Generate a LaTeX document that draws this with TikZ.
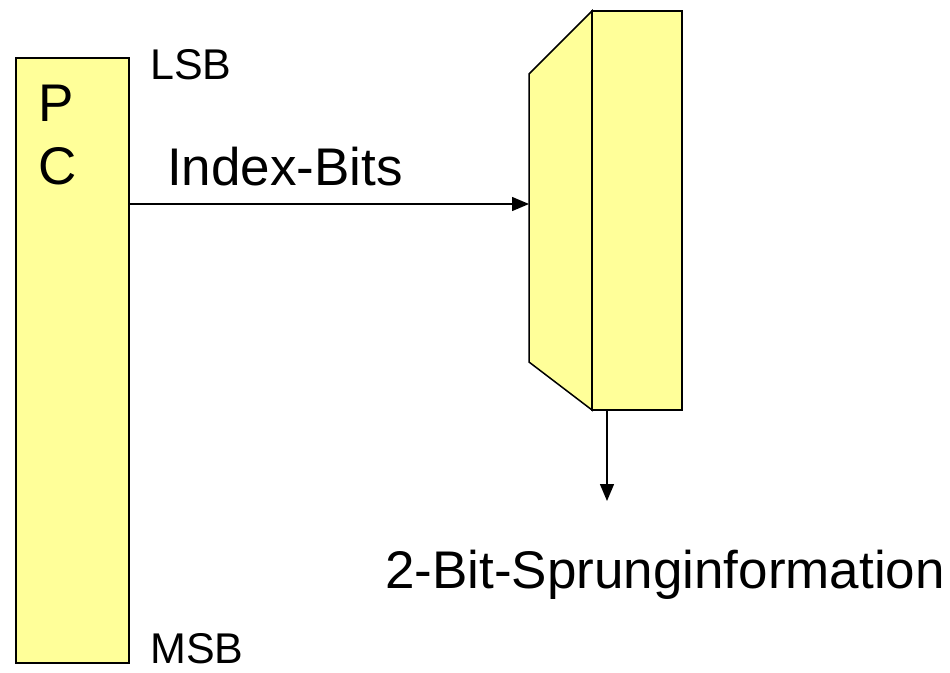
\documentclass[tikz,border=0pt]{standalone}
\usepackage{fontspec}
\setmainfont{Liberation Sans}
\usetikzlibrary{arrows.meta}
\definecolor{boxfill}{HTML}{FFFF99}
\tikzset{
  box/.style={draw=black, line width=1.5pt, fill=boxfill, line join=miter},
  conn/.style={draw=black, line width=1.4pt, -{Triangle[length=17pt,width=14pt]}},
  big/.style={font=\fontsize{53}{60}\selectfont, inner sep=0pt},
  small/.style={font=\fontsize{43}{50}\selectfont, inner sep=0pt}
}
\begin{document}
\begin{tikzpicture}[x=1pt,y=-1pt]
\useasboundingbox (0,0) rectangle (950,672);
% PC register
\draw[box] (16,58) rectangle (129,663);
\node[big, anchor=base west] (P) at (38,121) {P};
\node[big, anchor=base west] (C) at (38,184) {C};
\node[small, anchor=base west] (lsb) at (150,79) {LSB};
\node[small, anchor=base west] (msb) at (150,663) {MSB};
% table
\draw[box] (592,11) -- (529,74) -- (529,362) -- (592,410) -- cycle;
\draw[box] (592,11) rectangle (682,410);
\coordinate (pcout) at (129,204);
\coordinate (tin) at (529,204);
\coordinate (tout) at (607,411);
\coordinate (tend) at (607,501);
\node[big, anchor=base west] (idx) at (167,185) {Index-Bits};
\draw[conn] (pcout) -- (tin);
\draw[conn] (tout) -- (tend);
\node[big, anchor=base west] (info) at (385,588) {2-Bit-Sprunginformation};
\end{tikzpicture}
\end{document}
